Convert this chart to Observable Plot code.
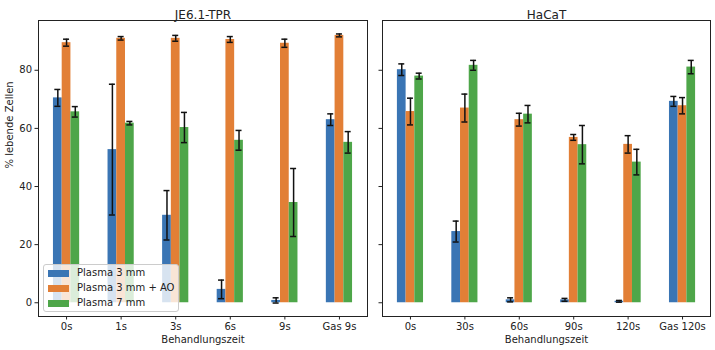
<!DOCTYPE html>
<html>
<head>
<meta charset="utf-8">
<script src="https://cdn.jsdelivr.net/npm/d3@7"></script>
<script src="https://cdn.jsdelivr.net/npm/@observablehq/plot@0.6"></script>
<style>
  html, body { margin: 0; padding: 0; background: #fff; }
  #wrap { position: relative; width: 715px; height: 350px; display: flex; font-family: "DejaVu Sans", sans-serif; }
  #wrap svg { display: block; }
  #legend { position: absolute; left: 43px; top: 264px; width: 136px; height: 48px;
    border: 1px solid #cccccc; border-radius: 3px; background: rgba(255,255,255,0.8);
    box-sizing: border-box; font-size: 10px; color: #222; }
  .item { position: absolute; left: 0; height: 14px; line-height: 14px; white-space: nowrap; }
  .sw { position: absolute; left: 4px; top: 4px; width: 21px; height: 7px; }
  .lab { position: absolute; left: 33px; top: 0; }
</style>
</head>
<body>
<div id="wrap"></div>
<script>
// ---- data ----
const seriesNames = ["Plasma 3 mm", "Plasma 3 mm + AO", "Plasma 7 mm"];
const seriesColors = ["#3a75b4", "#e27f36", "#4ea649"];

const titleJE = "JE6.1-TPR";
const categoriesJE = ["0s", "1s", "3s", "6s", "9s", "Gas 9s"];
const je_p3 = [70.5, 52.7, 30.1, 4.6, 0.8, 63.0];
const je_p3_err = [2.9, 22.5, 8.5, 3.2, 0.9, 2.0];
const je_ao = [89.5, 91.0, 91.0, 90.6, 89.3, 92.0];
const je_ao_err = [1.2, 0.6, 1.0, 1.0, 1.4, 0.5];
const je_p7 = [65.7, 61.8, 60.3, 55.9, 34.5, 55.2];
const je_p7_err = [1.8, 0.6, 5.2, 3.4, 11.7, 3.7];

const titleHa = "HaCaT";
const categoriesHa = ["0s", "30s", "60s", "90s", "120s", "Gas 120s"];
const ha_p3 = [80.2, 24.5, 1.0, 1.0, 0.5, 69.3];
const ha_p3_err = [2.0, 3.6, 0.7, 0.5, 0.3, 1.7];
const ha_ao = [65.8, 67.0, 63.0, 56.9, 54.5, 67.8];
const ha_ao_err = [4.6, 4.8, 2.2, 1.0, 3.0, 2.8];
const ha_p7 = [78.0, 81.7, 64.9, 54.4, 48.4, 81.1];
const ha_p7_err = [1.0, 1.7, 3.0, 6.6, 4.4, 2.3];

const yTicks = [0, 20, 40, 60, 80];
const xLabel = "Behandlungszeit";
const yLabel = "% lebende Zellen";

// ---- build ----
const barW = 0.16;
function rows(cats, vals, errs) {
  const out = [];
  cats.forEach((c, i) => {
    seriesNames.forEach((s, k) => {
      const xc = i + (k - 1) * barW;
      out.push({cat: c, series: s, v: vals[k][i], e: errs[k][i], xc, x1: xc - barW / 2, x2: xc + barW / 2});
    });
  });
  return out;
}
const dataJE = rows(categoriesJE, [je_p3, je_ao, je_p7], [je_p3_err, je_ao_err, je_p7_err]);
const dataHa = rows(categoriesHa, [ha_p3, ha_ao, ha_p7], [ha_p3_err, ha_ao_err, ha_p7_err]);

const all = dataJE.concat(dataHa);
const yMin = Math.min(0, d3.min(all, d => d.v - d.e));
const yMax = d3.max(all, d => d.v + d.e);
const yR = yMax - yMin;
const yDomain = [yMin - 0.05 * yR, yMax + 0.05 * yR];
const xLo = -1.5 * barW, xHi = 5 + 1.5 * barW, xR = xHi - xLo;
const xDomain = [xLo - 0.05 * xR, xHi + 0.05 * xR];

function panel(data, cats, title, opts) {
  const marks = [
    Plot.rect(data, {x1: "x1", x2: "x2", y1: 0, y2: "v", fill: "series"}),
    Plot.ruleX(data, {x: "xc", y1: d => d.v - d.e, y2: d => d.v + d.e, stroke: "#111", strokeWidth: 1.5}),
    Plot.ruleY(data, {y: d => d.v - d.e, x1: d => d.xc - 0.055, x2: d => d.xc + 0.055, stroke: "#111", strokeWidth: 1.5}),
    Plot.ruleY(data, {y: d => d.v + d.e, x1: d => d.xc - 0.055, x2: d => d.xc + 0.055, stroke: "#111", strokeWidth: 1.5}),
    Plot.frame({stroke: "#222", strokeWidth: 1}),
    Plot.text([title], {frameAnchor: "top", dy: -10, fontSize: 12, fill: "#222"}),
    Plot.text([xLabel], {frameAnchor: "bottom", dy: 26, fontSize: 10, fill: "#222"})
  ];
  if (opts.yLabel) marks.push(Plot.text([yLabel], {frameAnchor: "left", rotate: -90, dx: -29, fontSize: 10, fill: "#222"}));
  return Plot.plot({
    width: opts.width, height: 350,
    marginLeft: opts.ml, marginRight: opts.mr, marginTop: 20, marginBottom: 34,
    style: {fontFamily: "DejaVu Sans", fontSize: "10px", color: "#222", background: "transparent"},
    x: {type: "linear", domain: xDomain, ticks: [0, 1, 2, 3, 4, 5], tickFormat: i => cats[i], tickSize: 3.5, tickPadding: 3, label: null},
    y: {domain: yDomain, ticks: yTicks, tickSize: 3.5, tickPadding: 3, label: null,
        tickFormat: opts.yLabel ? d => String(d) : () => ""},
    color: {domain: seriesNames, range: seriesColors},
    marks
  });
}

const wrap = document.getElementById("wrap");
wrap.appendChild(panel(dataJE, categoriesJE, titleJE, {width: 369, ml: 38, mr: 2, yLabel: true}));
wrap.appendChild(panel(dataHa, categoriesHa, titleHa, {width: 346, ml: 13, mr: 5, yLabel: false}));

// legend
const leg = document.createElement("div");
leg.id = "legend";
seriesNames.forEach((s, k) => {
  const it = document.createElement("div");
  it.className = "item";
  it.style.top = (1 + k * 15) + "px";
  it.innerHTML = `<span class="sw" style="background:${seriesColors[k]}"></span><span class="lab"></span>`;
  it.querySelector(".lab").textContent = s;
  leg.appendChild(it);
});
wrap.appendChild(leg);
</script>
</body>
</html>
